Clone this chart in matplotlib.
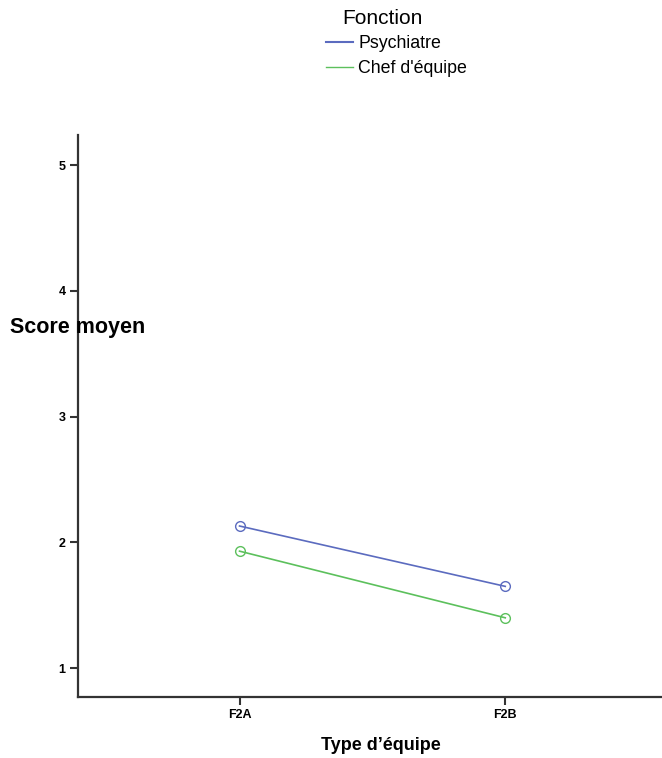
import matplotlib.pyplot as plt

# categories and means
types = ["F2A", "F2B"]
psychiatre = [2.13, 1.65]
chef = [1.93, 1.40]
yticks = [1, 2, 3, 4, 5]

fig = plt.figure(figsize=(6.62, 7.58), dpi=100)
ax = fig.add_axes([78 / 662, 61 / 758, 1 - 78 / 662, 562 / 758])

x = list(range(len(types)))
ax.plot(x, psychiatre, color="#5b6bbf", lw=1.2, marker="o", ms=7,
        mfc="none", mec="#5b6bbf", label="Psychiatre")
ax.plot(x, chef, color="#5cc05c", lw=1.2, marker="o", ms=7,
        mfc="none", mec="#5cc05c", label="Chef d'équipe")

ax.set_xlim(-0.608, 1.59)
ax.set_ylim(0.77, 5.24)
ax.set_xticks(x)
ax.set_xticklabels(types, fontsize=9, fontweight="bold", family="Liberation Sans")
ax.set_yticks(yticks)
ax.set_yticklabels([str(v) for v in yticks], fontsize=9, fontweight="bold",
                   family="Liberation Sans")
ax.tick_params(length=6, width=1.5, color="#333333", pad=3)

for s in ["top", "right"]:
    ax.spines[s].set_visible(False)
for s in ["left", "bottom"]:
    ax.spines[s].set_linewidth(1.6)
    ax.spines[s].set_color("#333333")

ax.set_xlabel("Type d’équipe", fontsize=13, fontweight="bold",
              family="Liberation Sans")
ax.xaxis.set_label_coords((381 - 78) / 584, -40 / 562)
fig.text(10 / 662, 1 - 328 / 758, "Score moyen", fontsize=15.5, fontweight="bold",
         family="Liberation Sans", va="center", ha="left")

# legend, title drawn separately
fig.text(342 / 662, 1 - 19 / 758, "Fonction", fontsize=15,
         family="Liberation Sans", va="center", ha="left")
leg = fig.legend(loc="upper left", bbox_to_anchor=(314 / 662, 1 - 23 / 758),
                 frameon=False, handlelength=1.5, handletextpad=0.3,
                 labelspacing=0.45, borderpad=0.2,
                 prop={"family": "Liberation Sans", "size": 12.8})
for h in leg.legend_handles:
    h.set_marker("")
leg.legend_handles[0].set_linewidth(1.5)
leg.legend_handles[1].set_linewidth(1.0)

fig.savefig("out.png", dpi=100)
